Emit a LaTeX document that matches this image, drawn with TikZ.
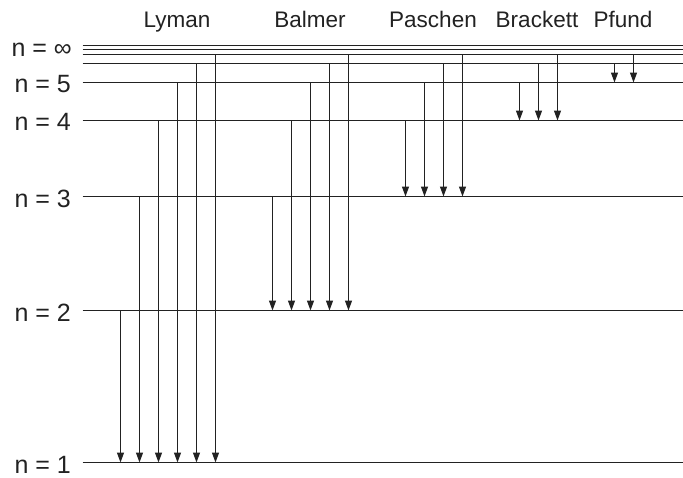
\documentclass[tikz,border=0pt]{standalone}
\usepackage{fontspec}
\setmainfont{Liberation Sans}
\usetikzlibrary{arrows.meta}
\definecolor{ink}{HTML}{222222}
\tikzset{
  level/.style={draw=ink, line width=1.2pt},
  trans/.style={draw=ink, line width=1.2pt, -{Triangle[length=10pt,width=7pt]}},
  lvlabel/.style={anchor=base east, inner sep=0pt, text=ink, font=\fontsize{25}{28}\selectfont},
  serlabel/.style={anchor=base, inner sep=0pt, text=ink, font=\fontsize{22.5}{26}\selectfont}
}
\begin{document}
\begin{tikzpicture}[x=1pt,y=-1pt]
\useasboundingbox (0,0) rectangle (683,477);
% level line ends
\foreach \n/\y in {ia/45.5, ib/49.5, 7/54.5, 6/63.5, 5/82.5, 4/120.5, 3/196.5, 2/310.5, 1/462.5}{
  \coordinate (l\n L) at (82.5,\y);
  \coordinate (l\n R) at (683,\y);
  \draw[level] (l\n L) -- (l\n R);
}
% level labels
\node[lvlabel] (tinf) at (72,56) {n = ∞};
\node[lvlabel] (t5) at (71,92.5) {n = 5};
\node[lvlabel] (t4) at (71,130.5) {n = 4};
\node[lvlabel] (t3) at (71,207) {n = 3};
\node[lvlabel] (t2) at (71,321) {n = 2};
\node[lvlabel] (t1) at (71,473) {n = 1};
% series labels
\node[serlabel] (sly) at (177,27) {Lyman};
\node[serlabel] (sba) at (310,27) {Balmer};
\node[serlabel] (spa) at (433,27) {Paschen};
\node[serlabel] (sbr) at (537,27) {Brackett};
\node[serlabel] (spf) at (623,27) {Pfund};
% Lyman
\foreach \x/\f in {120.5/2, 139.5/3, 158.5/4, 177.5/5, 196.5/6, 215.5/7}{
  \draw[trans] (\x,0 |- l\f L) -- (\x,0 |- l1L);
}
% Balmer
\foreach \x/\f in {272.5/3, 291.5/4, 310.5/5, 329.5/6, 348.5/7}{
  \draw[trans] (\x,0 |- l\f L) -- (\x,0 |- l2L);
}
% Paschen
\foreach \x/\f in {405.5/4, 424.5/5, 443.5/6, 462.5/7}{
  \draw[trans] (\x,0 |- l\f L) -- (\x,0 |- l3L);
}
% Brackett
\foreach \x/\f in {519.5/5, 538.5/6, 557.5/7}{
  \draw[trans] (\x,0 |- l\f L) -- (\x,0 |- l4L);
}
% Pfund
\foreach \x/\f in {614.5/6, 633.5/7}{
  \draw[trans] (\x,0 |- l\f L) -- (\x,0 |- l5L);
}
\end{tikzpicture}
\end{document}
